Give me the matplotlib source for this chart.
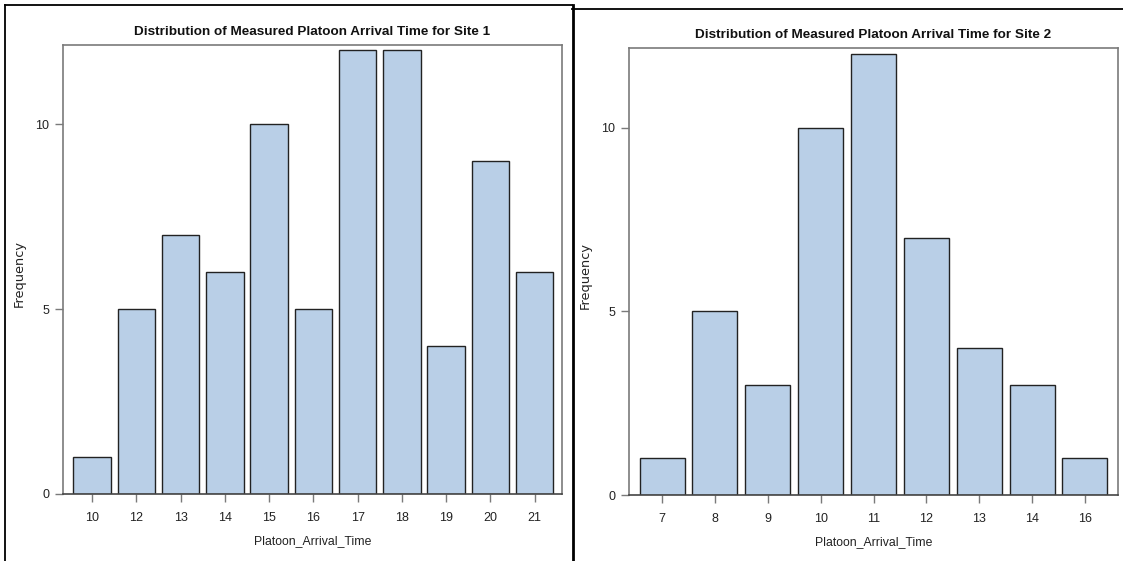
"""
Platoon arrival time frequency charts for two sites, side by side.
"""
import matplotlib
matplotlib.use("Agg")
import matplotlib.pyplot as plt
from matplotlib.lines import Line2D

# Data
site1_times = ["10", "12", "13", "14", "15", "16", "17", "18", "19", "20", "21"]
site1_freq = [1, 5, 7, 6, 10, 5, 12, 12, 4, 9, 6]

site2_times = ["7", "8", "9", "10", "11", "12", "13", "14", "16"]
site2_freq = [1, 5, 3, 10, 12, 7, 4, 3, 1]

y_ticks = [0, 5, 10]

# Styling
W, H = 1123, 561
DPI = 100
BAR_COLOR = "#B9CFE7"
FRAME_COLOR = "#7a7a7a"
TEXT_COLOR = "#222222"
plt.rcParams["font.family"] = ["Liberation Sans", "DejaVu Sans"]


def px_rect(left, top, right, bottom):
    """Pixel box (from top-left) -> figure fraction rect."""
    return [left / W, 1 - bottom / H, (right - left) / W, (bottom - top) / H]


def draw_panel(fig, rect, labels, values, title, xlim, ylim):
    ax = fig.add_axes(rect)
    x = range(len(labels))
    ax.bar(x, values, width=0.85, color=BAR_COLOR, edgecolor="#222222", linewidth=1.0, zorder=2)
    ax.set_xlim(*xlim)
    ax.set_ylim(*ylim)
    ax.set_xticks(list(x))
    ax.set_xticklabels(labels)
    ax.set_yticks(y_ticks)
    ax.tick_params(direction="out", length=6, width=1, color=FRAME_COLOR,
                   labelsize=9, labelcolor=TEXT_COLOR)
    ax.tick_params(axis="x", pad=7)
    ax.tick_params(axis="y", pad=4)
    for sp in ax.spines.values():
        sp.set_color(FRAME_COLOR)
        sp.set_linewidth(1.2)
    ax.spines["bottom"].set_color("#444444")
    ax.set_title(title, fontsize=9.7, fontweight="bold", pad=7, color="#111111")
    ax.set_xlabel("Platoon_Arrival_Time", fontsize=8.8, color=TEXT_COLOR)
    ax.set_ylabel("Frequency", fontsize=9.3, color=TEXT_COLOR, family="DejaVu Sans")
    width_px = rect[2] * W
    height_px = rect[3] * H
    ax.xaxis.set_label_coords(0.5, -41 / height_px)
    ax.yaxis.set_label_coords(-37 / width_px, 0.49)
    return ax


fig = plt.figure(figsize=(W / DPI, H / DPI), dpi=DPI)

draw_panel(fig, px_rect(63, 45, 562, 494), site1_times, site1_freq,
           "Distribution of Measured Platoon Arrival Time for Site 1",
           (-0.66, 10.62), (0, 12.14))
draw_panel(fig, px_rect(629, 48, 1118, 495), site2_times, site2_freq,
           "Distribution of Measured Platoon Arrival Time for Site 2",
           (-0.625, 8.625), (0, 12.17))

# Screenshot panel borders
def fig_line(xs, ys, lw):
    fig.add_artist(Line2D([v / W for v in xs], [1 - v / H for v in ys],
                          color="black", linewidth=lw, transform=fig.transFigure))

fig_line([572, 1123], [9, 9], 1.3)      # right panel top border
fig_line([5, 572], [5, 5], 1.3)         # left panel top border
fig_line([5, 5], [5, 561], 1.3)         # left panel left border
fig_line([573, 573], [5, 561], 2.0)     # left panel right border

fig.savefig("out.png", dpi=DPI)
